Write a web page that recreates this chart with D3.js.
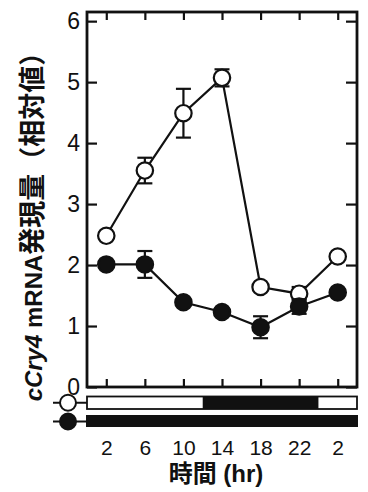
<!DOCTYPE html>
<html>
<head>
<meta charset="utf-8">
<script src="https://cdn.jsdelivr.net/npm/d3@7"></script>
<style>
  body { margin: 0; background: #fff; }
  svg text { font-family: "Liberation Sans", Arial, "Noto Sans CJK JP", sans-serif; fill: #111; }
</style>
</head>
<body>
<div id="chart"></div>
<script>
// datos
const hours = [2, 6, 10, 14, 18, 22, 26];
const tickLabels = ["2", "6", "10", "14", "18", "22", "2"];
const ldMean = [2.48, 3.55, 4.49, 5.07, 1.64, 1.53, 2.14];
const ldErr = [0.06, 0.21, 0.40, 0.14, 0.05, 0.11, 0.05];
const ddMean = [2.01, 2.01, 1.39, 1.23, 0.98, 1.32, 1.55];
const ddErr = [0.05, 0.22, 0.05, 0.06, 0.18, 0.12, 0.05];
const yTicks = [0, 1, 2, 3, 4, 5, 6];
// periodos de luz/oscuridad (horas)
const ldLight = [[0, 12], [24, 28]];
const ldDark = [[12, 24]];
const ddDark = [[0, 28]];

const width = 368, height = 492;
const margin = { top: 12, right: 11, bottom: 105, left: 87 };

const svg = d3.select('#chart').append('svg')
    .attr('width', width)
    .attr('height', height);

const x = d3.scaleLinear()
    .domain([0, 28])
    .range([margin.left, width - margin.right]);

const y = d3.scaleLinear()
    .domain([0, 6.15])
    .range([height - margin.bottom, margin.top]);

const x0 = x.range()[0], x1 = x.range()[1];
const yB = y.range()[0], yT = y.range()[1];

// ejes con marcas hacia dentro
svg.append('g')
    .attr('transform', `translate(${x0},0)`)
    .call(d3.axisLeft(y).tickValues(yTicks).tickSize(-10).tickPadding(7).tickFormat(d3.format('d')))
    .call(g => g.select('.domain').remove())
    .call(g => g.selectAll('text').attr('font-size', 23));

svg.append('g')
    .attr('transform', `translate(${x1},0)`)
    .call(d3.axisRight(y).tickValues(yTicks).tickSize(-11).tickFormat(''))
    .call(g => g.select('.domain').remove());

svg.append('g')
    .attr('transform', `translate(0,${yT})`)
    .call(d3.axisTop(x).tickValues(hours).tickSize(-8).tickFormat(''))
    .call(g => g.select('.domain').remove());

svg.append('g')
    .attr('transform', `translate(0,${yB})`)
    .call(d3.axisBottom(x).tickValues(hours).tickSize(-8).tickPadding(53)
        .tickFormat((d, i) => tickLabels[i]))
    .call(g => g.select('.domain').remove())
    .call(g => g.selectAll('text').attr('font-size', 21));

svg.selectAll('.tick line').attr('stroke', '#111').attr('stroke-width', 2.2);

// marco
svg.append('rect')
    .attr('x', x0).attr('y', yT)
    .attr('width', x1 - x0).attr('height', yB - yT)
    .attr('fill', 'none')
    .attr('stroke', '#111')
    .attr('stroke-width', 2.8);

// barras de luz/oscuridad
const barLD = { y: 396.5, h: 12.5 };
const barDD = { y: 415, h: 12 };

svg.selectAll('.ldLight')
    .data(ldLight)
    .enter().append('rect')
    .attr('x', d => x(d[0]))
    .attr('y', barLD.y)
    .attr('width', d => x(d[1]) - x(d[0]))
    .attr('height', barLD.h)
    .attr('fill', '#fff');

svg.selectAll('.ldDark')
    .data(ldDark)
    .enter().append('rect')
    .attr('x', d => x(d[0]))
    .attr('y', barLD.y)
    .attr('width', d => x(d[1]) - x(d[0]))
    .attr('height', barLD.h)
    .attr('fill', '#111');

svg.append('rect')
    .attr('x', x0).attr('y', barLD.y)
    .attr('width', x1 - x0).attr('height', barLD.h)
    .attr('fill', 'none').attr('stroke', '#111').attr('stroke-width', 1.8);

svg.selectAll('.ddDark')
    .data(ddDark)
    .enter().append('rect')
    .attr('x', d => x(d[0]) - 1)
    .attr('y', barDD.y)
    .attr('width', d => x(d[1]) - x(d[0]) + 2)
    .attr('height', barDD.h)
    .attr('fill', '#111');

// símbolos de leyenda junto a las barras
function legendMark(cy, filled) {
    svg.append('line')
        .attr('x1', 53).attr('x2', x0)
        .attr('y1', cy).attr('y2', cy)
        .attr('stroke', '#111').attr('stroke-width', 2);
    svg.append('circle')
        .attr('cx', 68).attr('cy', cy).attr('r', 8)
        .attr('fill', filled ? '#111' : '#fff')
        .attr('stroke', '#111').attr('stroke-width', 2);
}
legendMark(barLD.y + barLD.h / 2, false);
legendMark(barDD.y + barDD.h / 2 + 0.5, true);

// series
function drawSeries(means, errs, filled) {
    const pts = hours.map((h, i) => ({ h: h, m: means[i], e: errs[i] }));
    svg.append('path')
        .datum(pts)
        .attr('fill', 'none')
        .attr('stroke', '#111')
        .attr('stroke-width', 2.2)
        .attr('d', d3.line().x(d => x(d.h)).y(d => y(d.m)));

    const err = svg.append('g').selectAll('g')
        .data(pts)
        .enter().append('g')
        .attr('stroke', '#111')
        .attr('stroke-width', 2.2);
    err.append('line')
        .attr('x1', d => x(d.h)).attr('x2', d => x(d.h))
        .attr('y1', d => y(d.m - d.e)).attr('y2', d => y(d.m + d.e));
    [-1, 1].forEach(s => {
        err.append('line')
            .attr('x1', d => x(d.h) - 7.5).attr('x2', d => x(d.h) + 7.5)
            .attr('y1', d => y(d.m + s * d.e)).attr('y2', d => y(d.m + s * d.e));
    });

    svg.append('g').selectAll('circle')
        .data(pts)
        .enter().append('circle')
        .attr('cx', d => x(d.h))
        .attr('cy', d => y(d.m))
        .attr('r', 8.2)
        .attr('fill', filled ? '#111' : '#fff')
        .attr('stroke', '#111')
        .attr('stroke-width', 2.2);
}
drawSeries(ldMean, ldErr, false);
drawSeries(ddMean, ddErr, true);

// títulos de ejes
svg.append('text')
    .attr('x', (x0 + x1) / 2 - 6)
    .attr('y', 482)
    .attr('text-anchor', 'middle')
    .attr('font-size', 24)
    .attr('font-weight', 'bold')
    .text('時間 (hr)');

const yTitle = svg.append('text')
    .attr('transform', 'translate(42,220) rotate(-90)')
    .attr('text-anchor', 'middle')
    .attr('font-weight', 'bold')
    .attr('font-size', 24);
yTitle.append('tspan').attr('font-style', 'italic').text('cCry4');
yTitle.append('tspan').text(' mRNA');
yTitle.append('tspan').attr('font-size', 27).text('発現量（相対値）');
</script>
</body>
</html>
